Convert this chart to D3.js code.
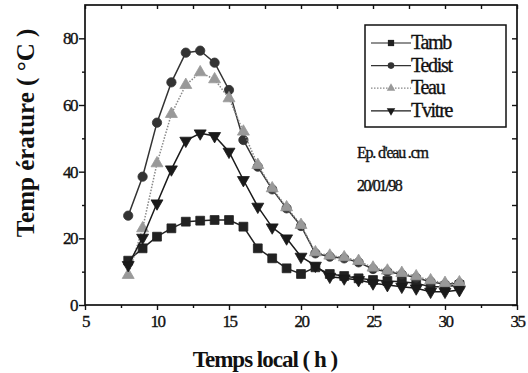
<!DOCTYPE html>
<html>
<head>
<meta charset="utf-8">
<script src="https://cdn.jsdelivr.net/npm/d3@7/dist/d3.min.js"></script>
<style>
  html, body { margin: 0; padding: 0; background: #fff; }
  svg { display: block; }
  svg text { font-family: "Liberation Serif", "Times New Roman", serif; fill: #111; }
  svg text.plain { stroke: #111; stroke-width: 0.35px; }
</style>
</head>
<body>
<svg id="chart" width="528" height="373"></svg>
<script>
// Hourly temperatures (°C), 20/01/98
const hours = [8, 9, 10, 11, 12, 13, 14, 15, 16, 17, 18, 19, 20, 21, 22, 23, 24, 25, 26, 27, 28, 29, 30, 31];
const tamb   = [13.3, 17, 20.5, 23, 25, 25.3, 25.5, 25.5, 23.5, 17, 14, 11, 9.3, 11.3, 9.3, 8.7, 8, 7.5, 7.2, 7, 6.5, 5.5, 5.5, 6];
const tedist = [26.8, 38.5, 54.7, 66.8, 75.7, 76.3, 72.7, 64.5, 49.5, 41.5, 34.7, 29, 23.7, 15.5, 14.5, 14, 12.8, 10.8, 10, 9.2, 8.2, 7, 6.2, 6.5];
const teau   = [9, 23, 42.5, 57.3, 66, 69.8, 67.7, 62, 52, 42, 35, 29.3, 24, 15.8, 14.8, 14.3, 13.2, 11.2, 10.3, 9.6, 8.6, 7.4, 6.6, 6.8];
const tvitre = [12, 20.2, 30.5, 40.7, 49.3, 51.5, 50.7, 46, 37.5, 29.5, 23.3, 20, 14.5, 11.8, 8.5, 8, 7.5, 6.5, 6, 5.5, 5, 4, 4, 4.5];

const xMajorTicks = [5, 10, 15, 20, 25, 30, 35];
const xMinorTicks = [7.5, 12.5, 17.5, 22.5, 27.5, 32.5];
const yMajorTicks = [0, 20, 40, 60, 80];
const yMinorTicks = [10, 30, 50, 70];

const seriesNames = ["Tamb", "Tedist", "Teau", "Tvitre"];
const seriesValues = [tamb, tedist, teau, tvitre];

const styles = {
  Tamb:   { stroke: "#222", dash: null,      fill: "#222", symbol: d3.symbolSquare,   size: 78, rot: 0 },
  Tedist: { stroke: "#333", dash: null,      fill: "#333", symbol: d3.symbolCircle,   size: 68, rot: 0 },
  Teau:   { stroke: "#888", dash: "1.5,1.5", fill: "#999", symbol: d3.symbolTriangle, size: 62, rot: 0 },
  Tvitre: { stroke: "#1a1a1a", dash: null,   fill: "#1a1a1a", symbol: d3.symbolTriangle, size: 62, rot: 180 }
};

const serif = "'Liberation Serif', 'Times New Roman', serif";
const svg = d3.select("#chart");
const plotLeft = 85, plotRight = 517, plotTop = 5, plotBottom = 305;

const x = d3.scaleLinear().domain([5, 35]).range([plotLeft, plotRight]);
const y = d3.scaleLinear().domain([0, 90]).range([plotBottom, plotTop]);

// Frame
svg.append("rect")
  .attr("x", plotLeft).attr("y", plotTop)
  .attr("width", plotRight - plotLeft).attr("height", plotBottom - plotTop)
  .attr("fill", "none").attr("stroke", "#111").attr("stroke-width", 1.7);

function styleTicks(g) {
  g.attr("font-family", serif).attr("font-size", 17);
  g.select(".domain").remove();
  g.selectAll("text").attr("class", "plain").attr("fill", "#111").style("letter-spacing", "-1.5px");
  g.selectAll("line").attr("stroke", "#111").attr("stroke-width", 1.4);
}

// Bottom axis (outward ticks) with labels
svg.append("g").attr("transform", `translate(0,${plotBottom})`)
  .call(d3.axisBottom(x).tickValues(xMajorTicks).tickSize(5).tickPadding(5).tickFormat(d3.format("d")))
  .call(styleTicks);
svg.append("g").attr("transform", `translate(0,${plotBottom})`)
  .call(d3.axisBottom(x).tickValues(xMinorTicks).tickSize(3).tickFormat(""))
  .call(styleTicks);

// Top axis (inward ticks)
svg.append("g").attr("transform", `translate(0,${plotTop})`)
  .call(d3.axisBottom(x).tickValues(xMajorTicks.concat(xMinorTicks)).tickSize(4).tickFormat(""))
  .call(styleTicks);

// Left axis (outward ticks) with labels
svg.append("g").attr("transform", `translate(${plotLeft},0)`)
  .call(d3.axisLeft(y).tickValues(yMajorTicks).tickSize(6).tickPadding(2).tickFormat(d3.format("d")))
  .call(styleTicks);
svg.append("g").attr("transform", `translate(${plotLeft},0)`)
  .call(d3.axisLeft(y).tickValues(yMinorTicks).tickSize(3).tickFormat(""))
  .call(styleTicks);

// Right axis (inward ticks)
svg.append("g").attr("transform", `translate(${plotRight},0)`)
  .call(d3.axisLeft(y).tickValues(yMajorTicks.concat(yMinorTicks)).tickSize(5).tickFormat(""))
  .call(styleTicks);

// Series lines and markers
const line = d3.line().x((d, i) => x(hours[i])).y(d => y(d));

seriesNames.forEach((name, k) => {
  const st = styles[name];
  const vals = seriesValues[k];
  svg.append("path")
    .datum(vals)
    .attr("d", line)
    .attr("fill", "none")
    .attr("stroke", st.stroke)
    .attr("stroke-width", 1.5)
    .attr("stroke-dasharray", st.dash);
  const sym = d3.symbol().type(st.symbol).size(st.size);
  svg.append("g").selectAll("path")
    .data(vals)
    .join("path")
    .attr("d", sym)
    .attr("transform", (d, i) => `translate(${x(hours[i])},${y(d)}) rotate(${st.rot})`)
    .attr("fill", st.fill)
    .attr("stroke", st.fill)
    .attr("stroke-width", 0.8);
});

// Legend
const lg = svg.append("g");
lg.append("rect")
  .attr("x", 365).attr("y", 25).attr("width", 141).attr("height", 102)
  .attr("fill", "#fff").attr("stroke", "#111").attr("stroke-width", 1.5);
seriesNames.forEach((name, k) => {
  const st = styles[name];
  const ly = 43 + k * 22.6;
  lg.append("line")
    .attr("x1", 371).attr("x2", 411).attr("y1", ly).attr("y2", ly)
    .attr("stroke", st.stroke).attr("stroke-width", 1.2)
    .attr("stroke-dasharray", st.dash);
  lg.append("path")
    .attr("d", d3.symbol().type(st.symbol).size(st.size * 0.5))
    .attr("transform", `translate(391,${ly}) rotate(${st.rot})`)
    .attr("fill", st.fill);
  lg.append("text")
    .attr("class", "plain")
    .attr("x", 411).attr("y", ly + 6)
    .attr("font-family", serif)
    .style("font-size", "20px").style("letter-spacing", "-1.3px")
    .text(name);
});

// Annotations
svg.append("text").attr("class", "plain").attr("x", 357).attr("y", 158)
  .attr("font-family", serif)
  .style("font-size", "16px").style("letter-spacing", "-1.2px")
  .text("Ep. d'eau .cm");
svg.append("text").attr("class", "plain").attr("x", 357).attr("y", 191)
  .attr("font-family", serif)
  .style("font-size", "16px").style("letter-spacing", "-1.6px")
  .text("20/01/98");

// Axis titles
svg.append("text")
  .attr("x", 265).attr("y", 367)
  .attr("text-anchor", "middle")
  .attr("font-family", serif)
  .style("font-size", "23px").style("font-weight", "bold").style("letter-spacing", "-1px")
  .text("Temps local ( h )");
svg.append("text")
  .attr("transform", "translate(34,133) rotate(-90)")
  .attr("text-anchor", "middle")
  .attr("font-family", serif)
  .style("font-size", "25px").style("font-weight", "bold").style("letter-spacing", "0px")
  .text("Temp érature  ( °C )");
</script>
</body>
</html>
